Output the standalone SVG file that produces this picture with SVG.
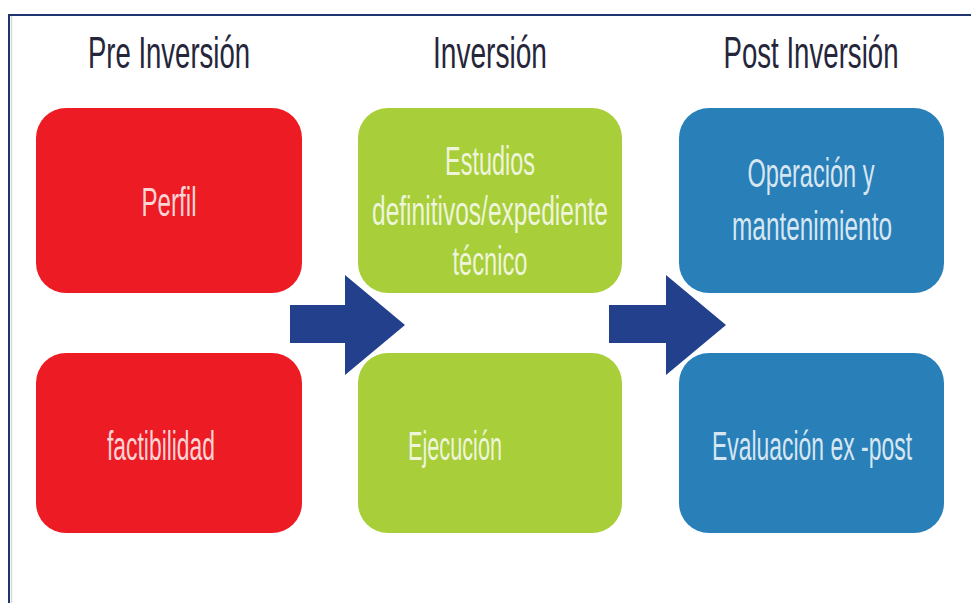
<svg xmlns="http://www.w3.org/2000/svg" width="971" height="603" viewBox="0 0 971 603">
<style>
.hdr{font-family:"Liberation Sans",Arial,sans-serif;font-size:45px;fill:#26263a;text-anchor:middle}
.lbl{font-family:"Liberation Sans",Arial,sans-serif;font-size:40px;fill:#ffffff;fill-opacity:0.82;text-anchor:middle}
.red{fill:#ED1C24}
.green{fill:#A8CE3A}
.blue{fill:#2980B9}
.arrow{fill:#22408C}
</style>
<rect width="971" height="603" fill="#ffffff"/>
<g id="frame">
<line x1="8" y1="15" x2="971" y2="15" stroke="#1F3470" stroke-width="2"/>
<line x1="9" y1="15" x2="9" y2="603" stroke="#1F3470" stroke-width="2"/>
<line x1="11.5" y1="16" x2="11.5" y2="603" stroke="#d8d8d8" stroke-width="1.5"/>
</g>
<g id="headers">
<text class="hdr" x="169" y="68" textLength="162" lengthAdjust="spacingAndGlyphs">Pre Inversión</text>
<text class="hdr" x="490" y="68" textLength="114" lengthAdjust="spacingAndGlyphs">Inversión</text>
<text class="hdr" x="811" y="68" textLength="175" lengthAdjust="spacingAndGlyphs">Post Inversión</text>
</g>
<g id="perfil">
<rect class="red" x="36" y="108" width="266" height="185" rx="30"/>
<text class="lbl" x="169" y="216" textLength="55" lengthAdjust="spacingAndGlyphs">Perfil</text>
</g>
<g id="factibilidad">
<rect class="red" x="36" y="353" width="266" height="180" rx="30"/>
<text class="lbl" x="161" y="460" textLength="108" lengthAdjust="spacingAndGlyphs">factibilidad</text>
</g>
<g id="estudios">
<rect class="green" x="358" y="108" width="264" height="185" rx="30"/>
<text class="lbl" x="490" y="175" textLength="90" lengthAdjust="spacingAndGlyphs">Estudios</text>
<text class="lbl" x="490" y="225" textLength="236" lengthAdjust="spacingAndGlyphs">definitivos/expediente</text>
<text class="lbl" x="490" y="275" textLength="75" lengthAdjust="spacingAndGlyphs">técnico</text>
</g>
<g id="ejecucion">
<rect class="green" x="358" y="353" width="264" height="180" rx="30"/>
<text class="lbl" x="455" y="460" textLength="94" lengthAdjust="spacingAndGlyphs">Ejecución</text>
</g>
<g id="operacion">
<rect class="blue" x="679" y="108" width="265" height="185" rx="30"/>
<text class="lbl" x="811" y="187" textLength="127" lengthAdjust="spacingAndGlyphs">Operación y</text>
<text class="lbl" x="812" y="240" textLength="160" lengthAdjust="spacingAndGlyphs">mantenimiento</text>
</g>
<g id="evaluacion">
<rect class="blue" x="679" y="353" width="265" height="180" rx="30"/>
<text class="lbl" x="812" y="460" textLength="200" lengthAdjust="spacingAndGlyphs">Evaluación ex -post</text>
</g>
<g id="connectors">
<polygon class="arrow" points="290,305 345,305 345,275 405,325 345,375 345,343 290,343"/>
<polygon class="arrow" points="609,305 666,305 666,275 726,325 666,375 666,343 609,343"/>
</g>
</svg>
